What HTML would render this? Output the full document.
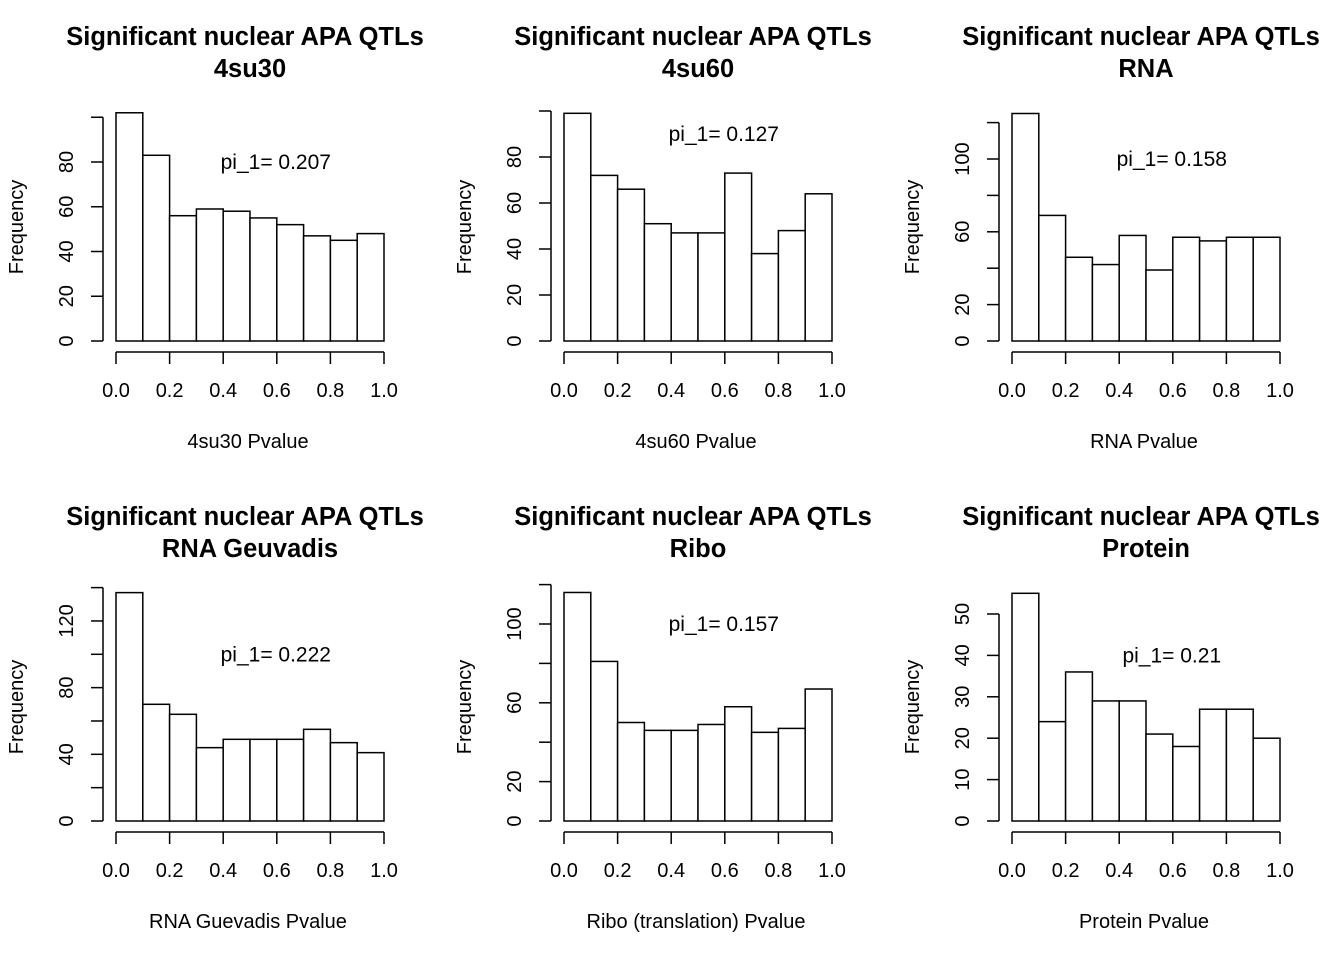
<!DOCTYPE html>
<html><head><meta charset="utf-8"><style>
body{margin:0;background:#fff}
svg{display:block;font-family:"Liberation Sans",Arial,sans-serif}
</style></head><body>
<svg id="c" width="1344" height="960" xmlns="http://www.w3.org/2000/svg"></svg>
<script>
const titles = ["4su30","4su60","RNA","RNA Geuvadis","Ribo","Protein"];
const xlabels = ["4su30 Pvalue","4su60 Pvalue","RNA Pvalue","RNA Guevadis Pvalue","Ribo (translation) Pvalue","Protein Pvalue"];
const piLabels = ["pi_1= 0.207","pi_1= 0.127","pi_1= 0.158","pi_1= 0.222","pi_1= 0.157","pi_1= 0.21"];
const piY = [80,90,100,100,100,40];
const counts0 = [102,83,56,59,58,55,52,47,45,48];
const counts1 = [99,72,66,51,47,47,73,38,48,64];
const counts2 = [125,69,46,42,58,39,57,55,57,57];
const counts3 = [137,70,64,44,49,49,49,55,47,41];
const counts4 = [116,81,50,46,46,49,58,45,47,67];
const counts5 = [55,24,36,29,29,21,18,27,27,20];
const allCounts = [counts0,counts1,counts2,counts3,counts4,counts5];
const yTicks = [[0,20,40,60,80,100],[0,20,40,60,80,100],[0,20,40,60,80,100,120],[0,20,40,60,80,100,120,140],[0,20,40,60,80,100,120],[0,10,20,30,40,50]];
const yTickLabels = [[0,20,40,60,80],[0,20,40,60,80],[0,20,60,100],[0,40,80,120],[0,20,60,100],[0,10,20,30,40,50]];
const xTicks = [0,0.2,0.4,0.6,0.8,1.0];
const scalePx = [2.2375,2.3,1.82,1.667,1.97,4.14];

const svg=document.getElementById('c');
const NS="http://www.w3.org/2000/svg";
function mk(tag,attrs,parent,text){const e=document.createElementNS(NS,tag);for(const k in attrs)e.setAttribute(k,attrs[k]);if(text!==undefined)e.textContent=text;(parent||svg).appendChild(e);return e;}

for(let p=0;p<6;p++){
  const ox=(p%3)*448, oy=Math.floor(p/3)*480;
  const g=mk('g',{});
  
  
  const x0=116+ox, x1=384+ox, y0=341+oy;
  const xs=v=>x0+v*(x1-x0);
  const ys=v=>y0-v*scalePx[p];
  const t1=mk('text',{x:245+ox,y:45+oy,'text-anchor':'middle','font-size':'25.5','font-weight':'bold'},g,'Significant nuclear APA QTLs');
  
  
  const t2=mk('text',{x:250+ox,y:77+oy,'text-anchor':'middle','font-size':'25.5','font-weight':'bold'},g,titles[p]);
  
  
  const c=allCounts[p];
  for(let i=0;i<c.length;i++){
    const r=mk('rect',{x:xs(i/10),y:ys(c[i]),width:xs((i+1)/10)-xs(i/10),height:y0-ys(c[i]),fill:'#fff',stroke:'#000','stroke-width':'1.5'},g);
    
    
  }
  const xa=mk('g',{},g);
  
  
  mk('line',{x1:xs(0),x2:xs(1),y1:352+oy,y2:352+oy,stroke:'#000','stroke-width':'1.5'},xa);
  xTicks.forEach(v=>{
    mk('line',{x1:xs(v),x2:xs(v),y1:352+oy,y2:364+oy,stroke:'#000','stroke-width':'1.5'},xa);
    const t=mk('text',{x:xs(v),y:397+oy,'text-anchor':'middle','font-size':'20'},xa,v.toFixed(1));
    
    
  });
  const xl=mk('text',{x:248+ox,y:448+oy,'text-anchor':'middle','font-size':'20'},g,xlabels[p]);
  
  
  const ya=mk('g',{},g);
  
  
  const yt=yTicks[p];
  mk('line',{x1:103+ox,x2:103+ox,y1:ys(0),y2:ys(yt[yt.length-1]),stroke:'#000','stroke-width':'1.5'},ya);
  yt.forEach(v=>mk('line',{x1:91+ox,x2:103+ox,y1:ys(v),y2:ys(v),stroke:'#000','stroke-width':'1.5'},ya));
  yTickLabels[p].forEach(v=>{
    const t=mk('text',{x:0,y:0,'text-anchor':'middle','font-size':'20',transform:`translate(${73+ox},${ys(v)}) rotate(-90)`},ya,String(v));
    
    
  });
  const yl=mk('text',{x:0,y:0,'text-anchor':'middle','font-size':'20',transform:`translate(${23+ox},${227+oy}) rotate(-90)`},g,'Frequency');
  
  
  const pt=mk('text',{x:xs(0.6)-1,y:ys(piY[p])+7,'text-anchor':'middle','font-size':'21'},g,piLabels[p]);
  
  
}
</script>
</body></html>
